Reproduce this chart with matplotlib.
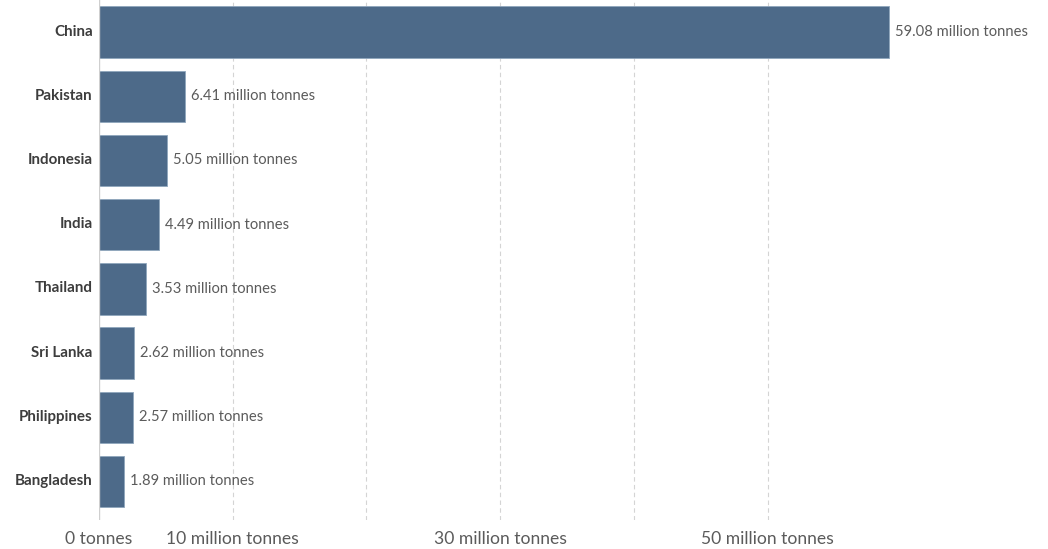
import matplotlib.pyplot as plt
from matplotlib.transforms import ScaledTranslation

countries = ["China", "Pakistan", "Indonesia", "India", "Thailand",
             "Sri Lanka", "Philippines", "Bangladesh"]
production = [59.08, 6.41, 5.05, 4.49, 3.53, 2.62, 2.57, 1.89]  # million tonnes

grid_ticks = [0, 10, 20, 30, 40, 50]
tick_labels = ["0 tonnes", "10 million tonnes", "", "30 million tonnes",
               "", "50 million tonnes"]

plt.rcParams['font.family'] = ['Lato', 'DejaVu Sans']

fig = plt.figure(figsize=(10.48, 5.49), dpi=100)
ax = fig.add_axes([99 / 1048, 29 / 549, (1040 - 99) / 1048, 520 / 549])

y = range(len(countries))
ax.barh(y, production, height=0.8, color="#4d6a89",
        edgecolor="#8fa6bd", linewidth=0.6, zorder=3)

for yi, v in zip(y, production):
    ax.text(v + 0.45, yi, f"{v:.2f} million tonnes", va="center", ha="left",
            fontsize=10.6, color="#5b5b5b")

ax.set_ylim(len(countries) - 0.4, -0.5)
ax.set_xlim(0, (1040 - 99) / 13.37)
ax.set_yticks(list(y))
ax.set_yticklabels(countries, fontsize=10.9, fontweight="bold", color="#3d3d3d")
ax.set_xticks(grid_ticks)
ax.set_xticklabels(tick_labels, fontsize=12.6, color="#5b5b5b")

ax.tick_params(axis="both", length=0)
ax.tick_params(axis="y", pad=4.5)
ax.tick_params(axis="x", pad=8)
# lift the country names a touch so they sit centred on the bars
shift = ScaledTranslation(0, 1.5 / 72, fig.dpi_scale_trans)
for lbl in ax.get_yticklabels():
    lbl.set_transform(lbl.get_transform() + shift)
for s in ax.spines.values():
    s.set_visible(False)

for t in grid_ticks[1:]:
    ax.axvline(t, color="#d4d4d4", linestyle=(0, (4, 3)), linewidth=0.8, zorder=1)
ax.axvline(0, color="#cfcfcf", linewidth=1, zorder=4)

fig.savefig("out.png", dpi=100, facecolor="white")
